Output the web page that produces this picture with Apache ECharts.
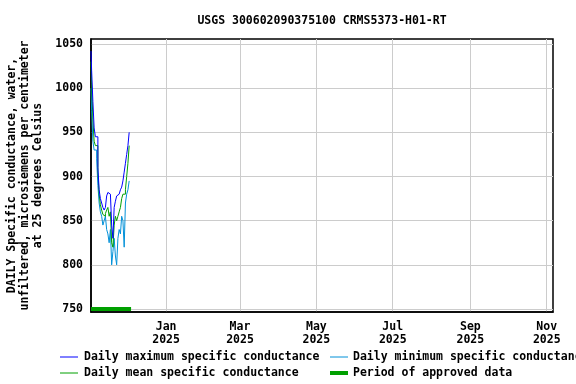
<!DOCTYPE html>
<html><head><meta charset="utf-8">
<script src="https://cdn.jsdelivr.net/npm/echarts@6/dist/echarts.min.js"></script>
<style>html,body{margin:0;padding:0;background:#fff}#c{width:576px;height:384px}</style>
</head><body><div id="c"></div>
<script>
const startDate = [2024, 10, 2];   // Nov 2, 2024
const axisStart = [2024, 10, 2];
const axisEnd = [2025, 10, 6];
const dailyMax = [1042,1020,985,955,945,945,910,885,875,870,865,862,865,878,882,880,880,845,830,865,872,878,880,882,885,888,895,905,915,925,935,950];
const dailyMin = [1000,975,940,930,930,920,890,870,860,855,845,850,855,840,835,825,840,800,815,830,810,800,830,840,835,855,850,820,870,880,885,895];
const dailyMean = [1030,1005,965,940,935,935,905,880,868,862,857,855,858,862,865,855,860,825,820,845,855,850,855,860,865,875,880,880,885,900,915,935];
const approvedStart = [2024, 10, 2];
const approvedEnd = [2024, 11, 4];
const approvedLevel = 750;
const xTickDates = [[2025,0,1],[2025,2,1],[2025,4,1],[2025,6,1],[2025,8,1],[2025,10,1]];
const xTickLabels = ['Jan\n2025','Mar\n2025','May\n2025','Jul\n2025','Sep\n2025','Nov\n2025'];
const yTicks = [750,800,850,900,950,1000,1050];

const t = a => Date.UTC(a[0], a[1], a[2]);
const DAY = 86400000;
const s0 = t(startDate);
const mk = arr => arr.map((v, i) => [s0 + i * DAY, v]);
const xTicks = xTickDates.map(t);
const font = '"DejaVu Sans Mono", monospace';

const chart = echarts.init(document.getElementById('c'), null, {renderer: 'canvas'});
chart.setOption({
  animation: false,
  title: {text: 'USGS 300602090375100 CRMS5373-H01-RT', left: 317, textAlign: 'center', top: 10,
    textStyle: {fontFamily: font, fontSize: 11.5, fontWeight: 'bold', color: '#000'}},
  grid: {left: 91, right: 23, top: 39, bottom: 72, containLabel: false, outerBoundsMode: 'none',
    show: true, borderColor: '#000', borderWidth: 1.5, backgroundColor: 'transparent'},
  xAxis: {type: 'value', min: t(axisStart), max: t(axisEnd),
    axisLine: {show: true, lineStyle: {color: '#000', width: 1.5}},
    axisTick: {show: false, customValues: xTicks},
    splitLine: {show: true, lineStyle: {color: '#cccccc', width: 1}},
    axisLabel: {customValues: xTicks, margin: 9, lineHeight: 13,
      formatter: v => xTickLabels[xTicks.indexOf(v)] || '',
      fontFamily: font, fontSize: 11.5, fontWeight: 'bold', color: '#000'}},
  yAxis: {type: 'value', min: 746.6, max: 1055.7,
    axisLine: {show: true, lineStyle: {color: '#000', width: 1.5}},
    axisTick: {show: false, customValues: yTicks},
    splitLine: {show: true, lineStyle: {color: '#cccccc', width: 1}},
    axisLabel: {customValues: yTicks, margin: 8, formatter: v => String(v),
      fontFamily: font, fontSize: 11.5, fontWeight: 'bold', color: '#000'},
    name: 'DAILY Specific conductance, water,\nunfiltered, microsiemens per centimeter\nat 25 degrees Celsius',
    nameLocation: 'middle', nameRotate: 90, nameGap: 46,
    nameTextStyle: {fontFamily: font, fontSize: 11.5, fontWeight: 'bold', color: '#000', lineHeight: 13, align: 'center'}},
  legend: {show: false},
  series: [
    {name: 'Daily minimum specific conductance', type: 'line', data: mk(dailyMin), step: 'middle', showSymbol: false,
      lineStyle: {color: '#0090d8', width: 1}, itemStyle: {color: '#0090d8'}},
    {name: 'Daily mean specific conductance', type: 'line', data: mk(dailyMean), step: 'middle', showSymbol: false,
      lineStyle: {color: '#00a000', width: 1}, itemStyle: {color: '#00a000'}},
    {name: 'Daily maximum specific conductance', type: 'line', data: mk(dailyMax), step: 'middle', showSymbol: false,
      lineStyle: {color: '#0000ff', width: 1}, itemStyle: {color: '#0000ff'}},
    {name: 'Period of approved data', type: 'line', data: [[t(approvedStart), approvedLevel], [t(approvedEnd), approvedLevel]],
      showSymbol: false, lineStyle: {color: '#00a000', width: 4}, itemStyle: {color: '#00a000'}}
  ],
  graphic: [
    {type: 'line', shape: {x1: 60, y1: 357, x2: 78, y2: 357}, style: {stroke: '#0000ff', lineWidth: 1}},
    {type: 'text', x: 84, y: 357, style: {text: 'Daily maximum specific conductance', font: 'bold 11.5px "DejaVu Sans Mono"', fill: '#000', verticalAlign: 'middle'}},
    {type: 'line', shape: {x1: 330, y1: 357, x2: 348, y2: 357}, style: {stroke: '#0090d8', lineWidth: 1}},
    {type: 'text', x: 353, y: 357, style: {text: 'Daily minimum specific conductance', font: 'bold 11.5px "DejaVu Sans Mono"', fill: '#000', verticalAlign: 'middle'}},
    {type: 'line', shape: {x1: 60, y1: 373, x2: 78, y2: 373}, style: {stroke: '#00a000', lineWidth: 1}},
    {type: 'text', x: 84, y: 373, style: {text: 'Daily mean specific conductance', font: 'bold 11.5px "DejaVu Sans Mono"', fill: '#000', verticalAlign: 'middle'}},
    {type: 'line', shape: {x1: 330, y1: 373, x2: 348, y2: 373}, style: {stroke: '#00a000', lineWidth: 4}},
    {type: 'text', x: 353, y: 373, style: {text: 'Period of approved data', font: 'bold 11.5px "DejaVu Sans Mono"', fill: '#000', verticalAlign: 'middle'}}
  ]
});
</script></body></html>
